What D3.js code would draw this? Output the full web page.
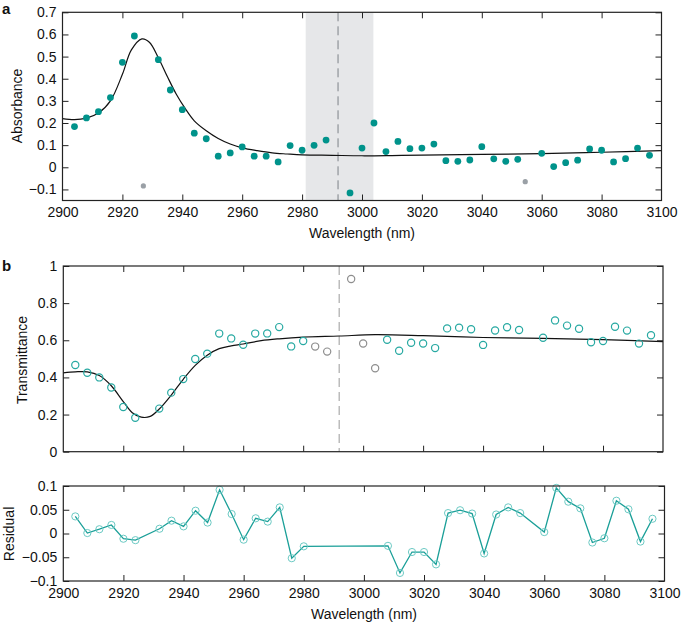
<!DOCTYPE html>
<html>
<head>
<meta charset="utf-8">
<script src="https://cdn.jsdelivr.net/npm/d3@7"></script>
<style>
  body { margin: 0; background: #fff; }
  svg text { font-family: "Liberation Sans", Arial, Helvetica, sans-serif; fill: #111; }
</style>
</head>
<body>
<div id="chart"></div>
<script>
// --- Data ---

// panel a: absorbance, teal points
const absWl = [2904, 2908, 2912, 2916, 2920, 2924, 2932, 2936, 2940, 2944, 2948, 2952, 2956, 2960, 2964, 2968, 2972, 2976, 2980, 2984, 2988,
               2996, 3000, 3004, 3008, 3012, 3016, 3020, 3024, 3028, 3032, 3036, 3040, 3044, 3048, 3052, 3060, 3064, 3068, 3072, 3076, 3080, 3084, 3088, 3092, 3096];
const absVal = [0.184, 0.223, 0.251, 0.315, 0.474, 0.593, 0.486, 0.349, 0.260, 0.154, 0.129, 0.050, 0.065, 0.092, 0.050, 0.050, 0.024, 0.098, 0.077, 0.099, 0.123,
                -0.116, 0.087, 0.200, 0.071, 0.117, 0.084, 0.087, 0.105, 0.030, 0.027, 0.033, 0.093, 0.038, 0.027, 0.036, 0.063, 0.003, 0.021, 0.032, 0.083, 0.077, 0.024, 0.039, 0.087, 0.054];
// panel a: grey (excluded) points
const absOutWl = [2927, 3054.5];
const absOutVal = [-0.084, -0.065];
// panel a: fitted curve
const absFitWl = [2900, 2904, 2908, 2912, 2916, 2920, 2923, 2926.5, 2929, 2932, 2935, 2938, 2941, 2944, 2948, 2952, 2956, 2960, 2965, 2970, 2975, 2980, 2990, 3000, 3010, 3020, 3040, 3060, 3080, 3100];
const absFitVal = [0.220, 0.215, 0.222, 0.245, 0.300, 0.420, 0.530, 0.580, 0.565, 0.495, 0.410, 0.330, 0.265, 0.210, 0.165, 0.130, 0.105, 0.088, 0.075, 0.065, 0.060, 0.056, 0.054, 0.052, 0.053, 0.055, 0.058, 0.062, 0.068, 0.075];

// excluded band and dashed marker
const bandRange = [2981.2, 3003.8];
const markerWl = 2992;

// panel b: transmittance, teal circles
const trWl = [2904, 2908, 2912, 2916, 2920, 2924, 2932, 2936, 2940, 2944, 2948, 2952, 2956, 2960, 2964, 2968, 2972, 2976, 2980,
              3008, 3012, 3016, 3020, 3024, 3028, 3032, 3036, 3040, 3044, 3048, 3052, 3060, 3064, 3068, 3072, 3076, 3080, 3084, 3088, 3092, 3096];
const trVal = [0.467, 0.425, 0.400, 0.346, 0.241, 0.183, 0.232, 0.318, 0.391, 0.499, 0.528, 0.636, 0.610, 0.576, 0.636, 0.637, 0.671, 0.567, 0.596,
               0.603, 0.544, 0.587, 0.583, 0.558, 0.664, 0.668, 0.659, 0.575, 0.653, 0.670, 0.655, 0.614, 0.707, 0.679, 0.662, 0.589, 0.596, 0.673, 0.652, 0.582, 0.627];
// panel b: grey circles
const trOutWl = [2984, 2988, 2996, 3000, 3004];
const trOutVal = [0.566, 0.539, 0.930, 0.583, 0.449];
// panel b: fitted curve
const trFitWl = [2900, 2904, 2908, 2912, 2916, 2920, 2923, 2926, 2929, 2932, 2936, 2940, 2944, 2948, 2952, 2956, 2960, 2966, 2972, 2980, 2992, 3004, 3020, 3040, 3060, 3080, 3100];
const trFitVal = [0.425, 0.430, 0.430, 0.410, 0.355, 0.270, 0.210, 0.186, 0.190, 0.230, 0.305, 0.390, 0.465, 0.520, 0.555, 0.570, 0.580, 0.598, 0.608, 0.617, 0.623, 0.630, 0.625, 0.615, 0.610, 0.604, 0.593];

// panel c: residual
const resVal = [0.036, 0.001, 0.009, 0.018, -0.011, -0.014, 0.010, 0.027, 0.015, 0.048, 0.023, 0.092, 0.041, -0.013, 0.032, 0.025, 0.055, -0.052, -0.027,
                -0.026, -0.083, -0.039, -0.039, -0.065, 0.043, 0.049, 0.042, -0.042, 0.040, 0.055, 0.043, 0.003, 0.096, 0.067, 0.053, -0.019, -0.010, 0.069, 0.051, -0.017, 0.031];

// tick values / labels
const xTicks = [2900, 2920, 2940, 2960, 2980, 3000, 3020, 3040, 3060, 3080, 3100];
const xTickLabels = ["2900", "2920", "2940", "2960", "2980", "3000", "3020", "3040", "3060", "3080", "3100"];
const absTicks = [-0.1, 0, 0.1, 0.2, 0.3, 0.4, 0.5, 0.6, 0.7];
const absTickLabels = ["\u22120.1", "0", "0.1", "0.2", "0.3", "0.4", "0.5", "0.6", "0.7"];
const trTicks = [0, 0.2, 0.4, 0.6, 0.8, 1];
const trTickLabels = ["0", "0.2", "0.4", "0.6", "0.8", "1"];
const resTicks = [-0.1, -0.05, 0, 0.05, 0.1];
const resTickLabels = ["\u22120.1", "\u22120.05", "0", "0.05", "0.1"];

// --- Colours ---
const teal = "#00938b", tealOpen = "#27a9a2", tealLight = "#6ccac4", grey = "#9aa0a6", greyOpen = "#8e8e8e";

// --- SVG ---
const svg = d3.select("#chart").append("svg")
  .attr("width", 681)
  .attr("height", 623);

const zip = (a, b) => a.map((v, i) => [v, b[i]]);

// helper: frame with inward ticks on four sides
function frame(x, y, yTicks, yLabels, showX) {
  const g = svg.append("g");
  const [x0, x1] = x.range(), [y1, y0] = y.range();

  g.append("g").attr("transform", `translate(0,${y1})`)
    .call(d3.axisBottom(x).tickValues(xTicks).tickSize(-6).tickPadding(showX ? 7 : 0)
      .tickFormat((d, i) => showX ? xTickLabels[i] : ""));
  g.append("g").attr("transform", `translate(0,${y0})`)
    .call(d3.axisTop(x).tickValues(xTicks).tickSize(-6).tickFormat(""));
  g.append("g").attr("transform", `translate(${x0},0)`)
    .call(d3.axisLeft(y).tickValues(yTicks).tickSize(-6).tickPadding(6)
      .tickFormat((d, i) => yLabels[i]));
  g.append("g").attr("transform", `translate(${x1},0)`)
    .call(d3.axisRight(y).tickValues(yTicks).tickSize(-6).tickFormat(""));

  g.selectAll(".domain").remove();
  g.selectAll(".tick line").attr("stroke", "#222").attr("stroke-width", 1);
  g.selectAll(".tick text").style("font-size", "14px").attr("fill", "#111");
  // hide ticks that sit on the frame corners
  g.selectAll(".tick").filter(d => d === xTicks[0] || d === xTicks[xTicks.length - 1]).select("line").remove();

  svg.append("rect")
    .attr("x", x0).attr("y", y0)
    .attr("width", x1 - x0).attr("height", y1 - y0)
    .attr("fill", "none").attr("stroke", "#222").attr("stroke-width", 1.2);
  return g;
}

// =============== Panel a ===============
const xa = d3.scaleLinear().domain([2900, 3100]).range([62.5, 661.5]);
const ya = d3.scaleLinear().domain([-0.15, 0.7]).range([200.5, 12.3]);

svg.append("rect")
  .attr("x", xa(bandRange[0])).attr("y", ya(0.7))
  .attr("width", xa(bandRange[1]) - xa(bandRange[0]))
  .attr("height", ya(-0.15) - ya(0.7))
  .attr("fill", "#e6e7e9");

svg.append("line")
  .attr("x1", xa(markerWl)).attr("x2", xa(markerWl))
  .attr("y1", ya(0.7)).attr("y2", ya(-0.15))
  .attr("stroke", "#7d8288").attr("stroke-width", 1)
  .attr("stroke-dasharray", "9,5");

svg.append("path")
  .datum(zip(absFitWl, absFitVal))
  .attr("fill", "none").attr("stroke", "#111").attr("stroke-width", 1.2)
  .attr("d", d3.line().x(d => xa(d[0])).y(d => ya(d[1])).curve(d3.curveCatmullRom));

svg.append("g").selectAll("circle")
  .data(zip(absWl, absVal)).enter().append("circle")
  .attr("cx", d => xa(d[0])).attr("cy", d => ya(d[1])).attr("r", 3.4)
  .attr("fill", teal);

svg.append("g").selectAll("circle")
  .data(zip(absOutWl, absOutVal)).enter().append("circle")
  .attr("cx", d => xa(d[0])).attr("cy", d => ya(d[1])).attr("r", 2.6)
  .attr("fill", grey);

frame(xa, ya, absTicks, absTickLabels, true);

// =============== Panel b ===============
const xb = d3.scaleLinear().domain([2900, 3100]).range([63.3, 663]);
const yb = d3.scaleLinear().domain([0, 1]).range([451.7, 266]);

svg.append("line")
  .attr("x1", xb(markerWl)).attr("x2", xb(markerWl))
  .attr("y1", yb(1)).attr("y2", yb(0))
  .attr("stroke", "#9a9a9a").attr("stroke-width", 1)
  .attr("stroke-dasharray", "9,5");

svg.append("path")
  .datum(zip(trFitWl, trFitVal))
  .attr("fill", "none").attr("stroke", "#111").attr("stroke-width", 1.2)
  .attr("d", d3.line().x(d => xb(d[0])).y(d => yb(d[1])).curve(d3.curveCatmullRom));

svg.append("g").selectAll("circle")
  .data(zip(trWl, trVal)).enter().append("circle")
  .attr("cx", d => xb(d[0])).attr("cy", d => yb(d[1])).attr("r", 3.6)
  .attr("fill", "none").attr("stroke", tealOpen).attr("stroke-width", 1.2);

svg.append("g").selectAll("circle")
  .data(zip(trOutWl, trOutVal)).enter().append("circle")
  .attr("cx", d => xb(d[0])).attr("cy", d => yb(d[1])).attr("r", 3.6)
  .attr("fill", "none").attr("stroke", greyOpen).attr("stroke-width", 1.2);

frame(xb, yb, trTicks, trTickLabels, false);

// =============== Panel c ===============
const xc = d3.scaleLinear().domain([2900, 3100]).range([63.3, 664.5]);
const yc = d3.scaleLinear().domain([-0.1, 0.1]).range([581, 486]);

svg.append("path")
  .datum(zip(trWl, resVal))
  .attr("fill", "none").attr("stroke", "#1a9f98").attr("stroke-width", 1.3)
  .attr("d", d3.line().x(d => xc(d[0])).y(d => yc(d[1])));

svg.append("g").selectAll("circle")
  .data(zip(trWl, resVal)).enter().append("circle")
  .attr("cx", d => xc(d[0])).attr("cy", d => yc(d[1])).attr("r", 3.6)
  .attr("fill", "none").attr("stroke", tealLight).attr("stroke-width", 1);

frame(xc, yc, resTicks, resTickLabels, true);

// --- Axis titles and panel letters ---
svg.append("text").attr("x", 2).attr("y", 14)
  .style("font-size", "15px").style("font-weight", "bold").text("a");
svg.append("text").attr("x", 2).attr("y", 271)
  .style("font-size", "15px").style("font-weight", "bold").text("b");

svg.append("text").attr("x", 362).attr("y", 238).attr("text-anchor", "middle")
  .style("font-size", "14px").text("Wavelength (nm)");
svg.append("text").attr("x", 364).attr("y", 619).attr("text-anchor", "middle")
  .style("font-size", "14px").text("Wavelength (nm)");

svg.append("text").attr("transform", "rotate(-90)")
  .attr("x", -106).attr("y", 22).attr("text-anchor", "middle")
  .style("font-size", "14px").text("Absorbance");
svg.append("text").attr("transform", "rotate(-90)")
  .attr("x", -360).attr("y", 27).attr("text-anchor", "middle")
  .style("font-size", "14px").text("Transmittance");
svg.append("text").attr("transform", "rotate(-90)")
  .attr("x", -534).attr("y", 14).attr("text-anchor", "middle")
  .style("font-size", "14px").text("Residual");
</script>
</body>
</html>
